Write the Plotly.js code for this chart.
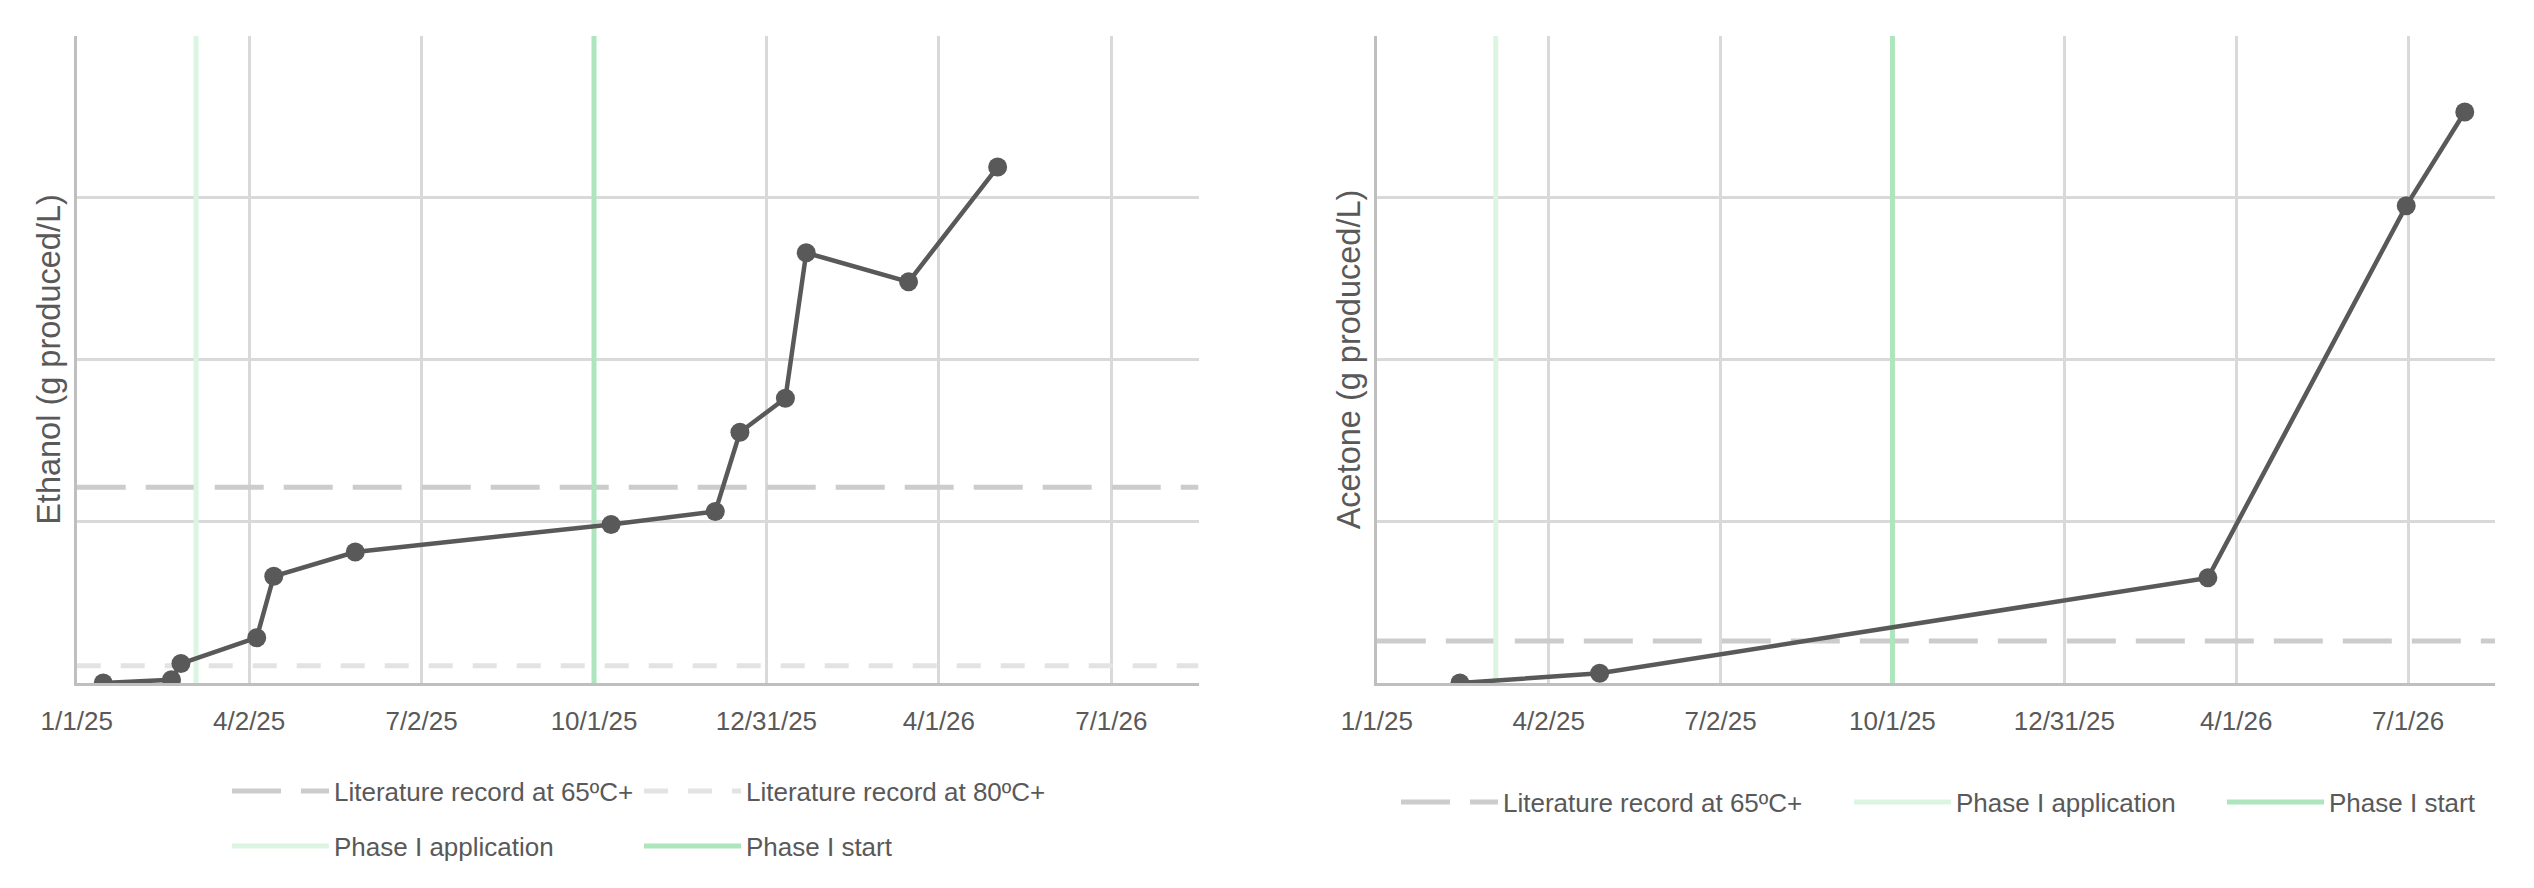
<!DOCTYPE html>
<html>
<head>
<meta charset="utf-8">
<script src="https://cdn.plot.ly/plotly-3.0.1.min.js"></script>
<style>
  html, body { margin: 0; padding: 0; background: #ffffff; }
  #chart { width: 2534px; height: 888px; }
</style>
</head>
<body>
<div id="chart"></div>
<script>
// ---------- data ----------
const xRange = ['2025-01-01', '2026-08-16'];
const yRange = [0, 4];

const tickDates = ['2025-01-01', '2025-04-02', '2025-07-02', '2025-10-01', '2025-12-31', '2026-04-01', '2026-07-01'];
const tickLabels = ['1/1/25', '4/2/25', '7/2/25', '10/1/25', '12/31/25', '4/1/26', '7/1/26'];

const ethanolDates = ['2025-01-15', '2025-02-20', '2025-02-25', '2025-04-06', '2025-04-15', '2025-05-28',
                      '2025-10-10', '2025-12-04', '2025-12-17', '2026-01-10', '2026-01-21', '2026-03-16', '2026-05-02'];
const ethanolValues = [0, 0.02, 0.12, 0.28, 0.66, 0.81, 0.98, 1.06, 1.55, 1.76, 2.66, 2.48, 3.19];

const acetoneDates = ['2025-02-14', '2025-04-29', '2026-03-17', '2026-06-30', '2026-07-31'];
const acetoneValues = [0, 0.06, 0.65, 2.95, 3.53];

const ethanolRecord65 = 1.21;
const ethanolRecord80 = 0.107;
const acetoneRecord65 = 0.26;

const phaseApplicationDate = '2025-03-05';
const phaseStartDate = '2025-10-01';

const seriesNames = {
  rec65: 'Literature record at 65ºC+',
  rec80: 'Literature record at 80ºC+',
  app: 'Phase I application',
  start: 'Phase I start'
};
const yTitles = ['Ethanol (g produced/L)', 'Acetone (g produced/L)'];

// ---------- styles ----------
const TEXT = '#595959';
const GRID = '#d9d9d9';
const AXIS = '#bfbfbf';
const DATA = '#595959';
const C65 = '#cccccc';
const C80 = '#e3e3e3';
const CAPP = '#dcf5e2';
const CSTART = '#ade6bd';
const FONT = 'Liberation Sans, Arial, sans-serif';

function hLine(val, xa, ya, name, color, dash, legend) {
  return {
    type: 'scatter', mode: 'lines', x: [xRange[0], xRange[1]], y: [val, val],
    xaxis: xa, yaxis: ya, name: name, legend: legend, showlegend: true,
    line: { color: color, width: 5, dash: dash }, hoverinfo: 'skip'
  };
}
function vLine(date, xa, ya, name, color, legend) {
  return {
    type: 'scatter', mode: 'lines', x: [date, date], y: [yRange[0], yRange[1]],
    xaxis: xa, yaxis: ya, name: name, legend: legend, showlegend: true,
    line: { color: color, width: 5 }, hoverinfo: 'skip'
  };
}
function dataTrace(xs, ys, xa, ya, name) {
  return {
    type: 'scatter', mode: 'lines+markers', x: xs, y: ys, xaxis: xa, yaxis: ya,
    name: name, showlegend: false,
    line: { color: DATA, width: 4.5 },
    marker: { color: DATA, size: 19 }
  };
}

const traces = [
  hLine(ethanolRecord65, 'x', 'y', seriesNames.rec65, C65, '49px,20px', 'legend'),
  hLine(ethanolRecord80, 'x', 'y', seriesNames.rec80, C80, '24px,20px', 'legend2'),
  vLine(phaseApplicationDate, 'x', 'y', seriesNames.app, CAPP, 'legend3'),
  vLine(phaseStartDate, 'x', 'y', seriesNames.start, CSTART, 'legend4'),
  dataTrace(ethanolDates, ethanolValues, 'x', 'y', 'Ethanol'),

  hLine(acetoneRecord65, 'x2', 'y2', seriesNames.rec65, C65, '49px,20px', 'legend5'),
  vLine(phaseApplicationDate, 'x2', 'y2', seriesNames.app, CAPP, 'legend6'),
  vLine(phaseStartDate, 'x2', 'y2', seriesNames.start, CSTART, 'legend7'),
  dataTrace(acetoneDates, acetoneValues, 'x2', 'y2', 'Acetone')
];

const W = 2534, H = 888;
function xaxisDef(domain) {
  return {
    type: 'date', domain: domain, range: xRange,
    tickmode: 'array', tickvals: tickDates, ticktext: tickLabels,
    ticks: '', ticklabelstandoff: 13,
    showgrid: true, gridcolor: GRID, gridwidth: 3,
    showline: true, linecolor: AXIS, linewidth: 3,
    zeroline: false, fixedrange: true,
    tickfont: { family: FONT, size: 26, color: TEXT }
  };
}
function yaxisDef(title) {
  return {
    domain: [1 - 683 / H, 1 - 36 / H], range: yRange, dtick: 1, tick0: 0,
    showticklabels: false, ticks: '',
    showgrid: true, gridcolor: GRID, gridwidth: 3,
    showline: true, linecolor: AXIS, linewidth: 3,
    zeroline: false, fixedrange: true,
    title: { text: title, standoff: 4, font: { family: FONT, size: 32.5, color: TEXT } }
  };
}
function legendDef(xpx, ypx) {
  return {
    x: xpx / W, y: 1 - ypx / H, xanchor: 'left', yanchor: 'middle',
    orientation: 'h', itemwidth: 97, bgcolor: 'rgba(0,0,0,0)', borderwidth: 0,
    font: { family: FONT, size: 26, color: TEXT }, itemclick: false, itemdoubleclick: false
  };
}

const layout = {
  width: W, height: H,
  margin: { l: 0, r: 0, t: 0, b: 0 },
  paper_bgcolor: '#ffffff', plot_bgcolor: '#ffffff',
  showlegend: true,
  xaxis: Object.assign(xaxisDef([76.7 / W, 1198.5 / W]), { anchor: 'y' }),
  yaxis: Object.assign(yaxisDef(yTitles[0]), { anchor: 'x' }),
  xaxis2: Object.assign(xaxisDef([1376.8 / W, 2495 / W]), { anchor: 'y2' }),
  yaxis2: Object.assign(yaxisDef(yTitles[1]), { anchor: 'x2' }),
  legend: legendDef(227, 791),
  legend2: legendDef(639, 791),
  legend3: legendDef(227, 846),
  legend4: legendDef(639, 846),
  legend5: legendDef(1396, 802),
  legend6: legendDef(1849, 802),
  legend7: legendDef(2222, 802)
};

Plotly.newPlot('chart', traces, layout, { displayModeBar: false, staticPlot: true });
</script>
</body>
</html>
